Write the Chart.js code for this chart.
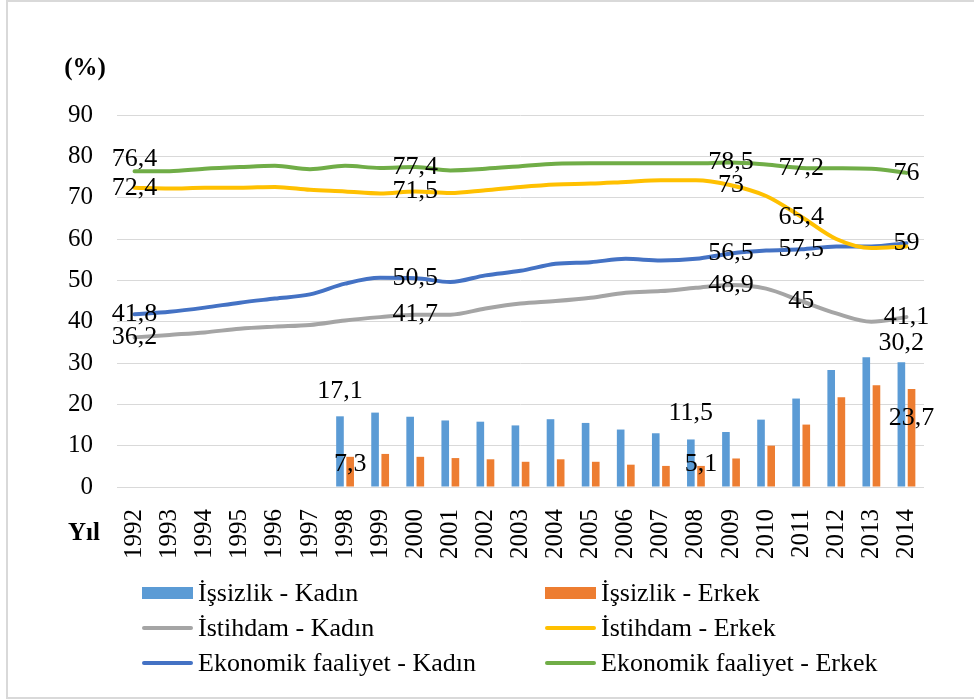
<!DOCTYPE html>
<html>
<head>
<meta charset="utf-8">
<script src="https://cdn.jsdelivr.net/npm/chart.js@4.4.0/dist/chart.umd.min.js"></script>
<style>
  body { margin: 0; background: #fff; }
  #wrap { position: relative; width: 974px; height: 699px; overflow: hidden; }
  #frame { position: absolute; left: 6px; top: 0; width: 1000px; height: 695px; border: 2px solid #d9d9d9; }
  #myChart { position: absolute; left: 0; top: 0; }
  #legend { position: absolute; left: 142px; top: 575px; font: 26px "Liberation Serif", serif; color: #000; }
  .item { position: absolute; display: flex; align-items: center; height: 36px; white-space: nowrap; }
  .sym { width: 51px; margin-right: 5px; }
</style>
</head>
<body>
<div id="wrap">
  <div id="frame"></div>
  <canvas id="myChart" width="974" height="699"></canvas>
  <div id="legend"></div>
</div>
<script>
const years = ['1992','1993','1994','1995','1996','1997','1998','1999','2000','2001','2002','2003',
               '2004','2005','2006','2007','2008','2009','2010','2011','2012','2013','2014'];

// İşsizlik (bars)
const unempKadin = [null, null, null, null, null, null, 17.1, 18.0, 17.0, 16.1, 15.8, 14.9,
                    16.4, 15.5, 13.9, 13.0, 11.5, 13.3, 16.3, 21.4, 28.3, 31.4, 30.2];
const unempErkek = [null, null, null, null, null, null, 7.3, 8.0, 7.3, 7.0, 6.7, 6.1,
                    6.7, 6.1, 5.4, 5.1, 5.1, 6.9, 10.0, 15.1, 21.7, 24.6, 23.7];
// İstihdam (lines)
const empKadin = [36.2, 36.8, 37.4, 38.3, 38.8, 39.2, 40.3, 41.1, 41.7, 41.7, 43.2, 44.4,
                  45.0, 45.8, 47.0, 47.4, 48.2, 48.9, 48.0, 45.0, 42.0, 40.0, 41.1];
const empErkek = [72.4, 72.2, 72.4, 72.4, 72.6, 71.9, 71.5, 71.0, 71.5, 71.1, 71.8, 72.6,
                  73.2, 73.4, 73.8, 74.2, 74.2, 73.0, 70.4, 65.4, 60.0, 57.8, 58.2];
// Ekonomik faaliyet (lines)
const efKadin = [41.8, 42.4, 43.4, 44.6, 45.6, 46.6, 49.2, 50.6, 50.5, 49.6, 51.2, 52.3,
                 54.0, 54.4, 55.2, 54.8, 55.2, 56.5, 57.2, 57.5, 58.2, 58.2, 59.0];
const efErkek = [76.4, 76.4, 77.0, 77.4, 77.7, 76.9, 77.7, 77.2, 77.4, 76.6, 77.0, 77.6,
                 78.2, 78.3, 78.3, 78.3, 78.3, 78.5, 78.0, 77.2, 77.1, 77.0, 76.0];

const yTicks = [0, 10, 20, 30, 40, 50, 60, 70, 80, 90];

// which points carry a value label (dataset index, year, vertical shift)
const labelSpots = [
  { ds: 0, year: '1998', dy: -25 }, { ds: 0, year: '2008', dy: -26 }, { ds: 0, year: '2014', dy: -19 },
  { ds: 1, year: '1998', dy: 7 },   { ds: 1, year: '2008', dy: -2 },  { ds: 1, year: '2014', dy: 29 },
  { ds: 2, year: '1992', dy: 0 }, { ds: 2, year: '2000', dy: 0 }, { ds: 2, year: '2009', dy: 0 },
  { ds: 2, year: '2011', dy: 0 }, { ds: 2, year: '2014', dy: 0 },
  { ds: 3, year: '1992', dy: 0 }, { ds: 3, year: '2000', dy: 0 }, { ds: 3, year: '2009', dy: 0 },
  { ds: 3, year: '2011', dy: 0 },
  { ds: 4, year: '1992', dy: 0 }, { ds: 4, year: '2000', dy: 0 }, { ds: 4, year: '2009', dy: 0 },
  { ds: 4, year: '2011', dy: 0 }, { ds: 4, year: '2014', dy: 0 },
  { ds: 5, year: '1992', dy: -12 }, { ds: 5, year: '2000', dy: 0 }, { ds: 5, year: '2009', dy: 0 },
  { ds: 5, year: '2011', dy: 0 }, { ds: 5, year: '2014', dy: 0 }
];

const FONT = '"Liberation Serif", "Times New Roman", serif';

function lineSet(label, data, color) {
  return {
    type: 'line', label: label, data: data,
    borderColor: color, backgroundColor: color,
    borderWidth: 4, pointRadius: 0, borderCapStyle: 'round',
    cubicInterpolationMode: 'monotone', order: 1
  };
}

const textPlugin = {
  id: 'texts',
  afterDatasetsDraw(chart) {
    const ctx = chart.ctx;
    ctx.save();
    ctx.fillStyle = '#000';
    ctx.textAlign = 'center';
    ctx.textBaseline = 'middle';
    ctx.font = '26px ' + FONT;
    labelSpots.forEach(s => {
      const i = years.indexOf(s.year);
      const el = chart.getDatasetMeta(s.ds).data[i];
      const v = chart.data.datasets[s.ds].data[i];
      ctx.fillText(String(v).replace('.', ','), el.x, el.y + s.dy);
    });
    ctx.font = 'bold 25px ' + FONT;
    ctx.fillText('(%)', 85, 69);
    ctx.fillText('Yıl', 84, 534);
    ctx.restore();
  }
};

const chart = new Chart(document.getElementById('myChart'), {
  type: 'bar',
  data: {
    labels: years,
    datasets: [
      { label: 'İşsizlik - Kadın', data: unempKadin, backgroundColor: '#5b9bd5', order: 10,
        categoryPercentage: 0.58, barPercentage: 0.75 },
      { label: 'İşsizlik - Erkek', data: unempErkek, backgroundColor: '#ed7d31', order: 10,
        categoryPercentage: 0.58, barPercentage: 0.75 },
      lineSet('İstihdam - Kadın', empKadin, '#a5a5a5'),
      lineSet('İstihdam - Erkek', empErkek, '#ffc000'),
      lineSet('Ekonomik faaliyet - Kadın', efKadin, '#4472c4'),
      lineSet('Ekonomik faaliyet - Erkek', efErkek, '#70ad47')
    ]
  },
  options: {
    responsive: false,
    animation: false,
    layout: { padding: { top: 115, right: 50, bottom: 137, left: 0 } },
    plugins: {
      legend: { display: false },
      tooltip: { enabled: false }
    },
    scales: {
      x: {
        offset: true,
        grid: { display: false },
        border: { display: false },
        ticks: {
          color: '#000', font: { family: FONT, size: 25 },
          minRotation: 90, maxRotation: 90, padding: 14, autoSkip: false
        },
        afterFit: (scale) => { scale.height = 75; }
      },
      y: {
        min: 0, max: 90,
        afterBuildTicks: (scale) => { scale.ticks = yTicks.map(v => ({ value: v })); },
        grid: { color: '#d9d9d9', lineWidth: 1, drawTicks: false },
        border: { display: false },
        ticks: { color: '#000', font: { family: FONT, size: 25 }, padding: 24 },
        afterFit: (scale) => { scale.width = 117; }
      }
    }
  },
  plugins: [textPlugin]
});

// legend in two columns, like the original
const legend = document.getElementById('legend');
chart.data.datasets.forEach((ds, i) => {
  const item = document.createElement('div');
  item.className = 'item';
  item.style.left = (i % 2 === 0 ? 0 : 403) + 'px';
  item.style.top = (Math.floor(i / 2) * 35) + 'px';
  const sym = document.createElement('span');
  sym.className = 'sym';
  if (ds.type === 'line') {
    sym.style.height = '4px';
    sym.style.borderRadius = '2px';
    sym.style.background = ds.borderColor;
  } else {
    sym.style.height = '12px';
    sym.style.background = ds.backgroundColor;
  }
  item.appendChild(sym);
  item.appendChild(document.createTextNode(ds.label));
  legend.appendChild(item);
});
</script>
</body>
</html>
